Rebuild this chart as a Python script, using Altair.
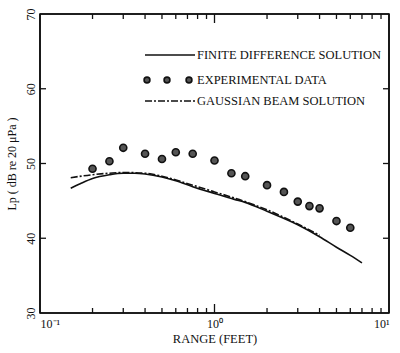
import altair as alt
import pandas as pd

# Experimental data (circles)
exp_range = [0.2, 0.25, 0.3, 0.4, 0.5, 0.6, 0.75, 1.0, 1.25, 1.5, 2.0, 2.5, 3.0, 3.5, 4.0, 5.0, 6.0]
exp_lp = [49.3, 50.3, 52.1, 51.3, 50.6, 51.5, 51.3, 50.4, 48.7, 48.3, 47.1, 46.2, 44.9, 44.3, 44.0, 42.3, 41.4]

# Finite difference solution (solid)
fd_range = [0.15, 0.17, 0.2, 0.25, 0.3, 0.35, 0.4, 0.5, 0.6, 0.75, 1.0, 1.3, 1.5, 2.0, 3.0, 4.0, 5.0, 6.0, 7.0]
fd_lp = [46.7, 47.3, 48.0, 48.5, 48.7, 48.7, 48.6, 48.2, 47.7, 46.9, 46.0, 45.2, 44.8, 43.6, 41.8, 40.2, 38.8, 37.7, 36.7]

# Gaussian beam solution (dash-dot)
gb_range = [0.15, 0.2, 0.25, 0.3, 0.4, 0.5, 0.75, 1.0, 1.5, 2.0, 3.0, 4.0]
gb_lp = [48.1, 48.5, 48.7, 48.8, 48.7, 48.3, 47.1, 46.2, 44.9, 43.8, 41.9, 40.4]

minor_ticks = [0.2, 0.3, 0.4, 0.5, 0.6, 0.7, 0.8, 0.9, 2, 3, 4, 5, 6, 7, 8, 9]
major_ticks = [1]
y_ticks = [40, 50, 60]

legend_labels = ["FINITE DIFFERENCE SOLUTION", "EXPERIMENTAL DATA", "GAUSSIAN BEAM SOLUTION"]

FONT = "Liberation Serif"
INK = "#111111"

W, H = 349, 299

xscale = alt.Scale(type="log", domain=[0.1, 10], nice=False)
yscale = alt.Scale(domain=[30, 70], nice=False, zero=False)

exp_df = pd.DataFrame({"r": exp_range, "lp": exp_lp})
fd_df = pd.DataFrame({"r": fd_range, "lp": fd_lp})
gb_df = pd.DataFrame({"r": gb_range, "lp": gb_lp})

x_axis = alt.Axis(
    values=[0.1, 1, 10], ticks=False, domain=False, grid=False,
    labelExpr="datum.value < 0.5 ? '10⁻¹' : (datum.value < 5 ? '10⁰' : '10¹')",
    labelFont=FONT, labelFontSize=12, labelColor=INK, labelPadding=5,
    title="RANGE (FEET)", titleFont=FONT, titleFontSize=12.5, titleFontWeight="normal",
    titleColor=INK, titlePadding=3,
)
y_axis = alt.Axis(
    values=[30, 40, 50, 60, 70], ticks=False, domain=False, grid=False,
    labelAngle=-90, labelAlign="center", labelBaseline="bottom", labelPadding=3,
    labelFont=FONT, labelFontSize=12, labelColor=INK,
    title="Lp ( dB re 20 μPa )", titleFont=FONT, titleFontSize=12, titleFontWeight="normal",
    titleColor=INK, titlePadding=6,
)

base_x = alt.X("r:Q", scale=xscale, axis=x_axis)
base_y = alt.Y("lp:Q", scale=yscale, axis=y_axis)

fd_line = alt.Chart(fd_df).mark_line(color=INK, strokeWidth=1.6, interpolate="monotone").encode(
    x=base_x, y=base_y)
gb_line = alt.Chart(gb_df).mark_line(color=INK, strokeWidth=1.6, strokeDash=[7, 2, 2, 2],
                                     interpolate="monotone").encode(
    x=alt.X("r:Q", scale=xscale), y=alt.Y("lp:Q", scale=yscale))
pts = alt.Chart(exp_df).mark_point(shape="circle", filled=True, size=50, fill="#555555",
                                    stroke=INK, strokeWidth=1.6, opacity=1).encode(
    x=alt.X("r:Q", scale=xscale), y=alt.Y("lp:Q", scale=yscale))

# inward ticks
minor_df = pd.DataFrame({"r": minor_ticks})
major_df = pd.DataFrame({"r": major_ticks})
yt_df = pd.DataFrame({"lp": y_ticks})

def xticks(df, y0, y1):
    return alt.Chart(df).mark_rule(color=INK, strokeWidth=1.3).encode(
        x=alt.X("r:Q", scale=xscale), y=alt.value(y0), y2=alt.value(y1))

def yticks(x0, x1):
    return alt.Chart(yt_df).mark_rule(color=INK, strokeWidth=1.3).encode(
        y=alt.Y("lp:Q", scale=yscale), x=alt.value(x0), x2=alt.value(x1))

tick_layers = [
    xticks(minor_df, H, H - 5), xticks(major_df, H, H - 9),
    xticks(minor_df, 0, 5), xticks(major_df, 0, 9),
    yticks(0, 6), yticks(W, W - 6),
]

# frame
def frame_rule(x0, x1, y0, y1):
    return alt.Chart(minor_df.iloc[[0]]).mark_rule(color=INK, strokeWidth=1.6).encode(
        x=alt.value(x0), x2=alt.value(x1), y=alt.value(y0), y2=alt.value(y1))

frame = [
    frame_rule(0, W, 0, 0), frame_rule(0, W, H, H),
    frame_rule(0, 0, 0, H), frame_rule(W, W, 0, H),
]

# legend
leg_df = pd.DataFrame({"label": legend_labels, "ypix": [41, 66, 87]})
leg_text = alt.Chart(leg_df).mark_text(align="left", baseline="middle", font=FONT,
                                       fontSize=12.5, color=INK).encode(
    x=alt.value(157), y=alt.Y("ypix:Q", scale=None), text="label:N")
leg_solid = alt.Chart(leg_df.iloc[[0]]).mark_rule(color=INK, strokeWidth=1.6).encode(
    x=alt.value(105), x2=alt.value(155), y=alt.Y("ypix:Q", scale=None))
leg_dash = alt.Chart(leg_df.iloc[[2]]).mark_rule(color=INK, strokeWidth=1.6,
                                                 strokeDash=[7, 2, 2, 2]).encode(
    x=alt.value(105), x2=alt.value(155), y=alt.Y("ypix:Q", scale=None))
leg_dots_df = pd.DataFrame({"xpix": [107, 127, 149], "ypix": [66, 66, 66]})
leg_dots = alt.Chart(leg_dots_df).mark_point(shape="circle", filled=True, size=34,
                                             fill="#555555", stroke=INK, strokeWidth=1.6,
                                             opacity=1).encode(
    x=alt.X("xpix:Q", scale=None), y=alt.Y("ypix:Q", scale=None))

chart = alt.layer(
    fd_line, gb_line, pts, *tick_layers, *frame, leg_solid, leg_dash, leg_dots, leg_text
).properties(
    width=W, height=H,
    background="white",
    autosize=alt.AutoSizeParams(type="none"),
    padding={"left": 40, "top": 14, "right": 11, "bottom": 40},
).configure_view(
    stroke=INK, strokeWidth=1.6
)

chart.save("out.html", embed_options={"renderer": "svg", "actions": False})
